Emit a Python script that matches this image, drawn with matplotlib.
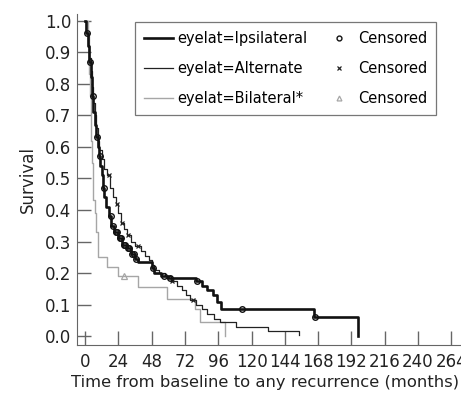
import matplotlib

matplotlib.use("Agg")

import numpy as np
from matplotlib import pyplot as plt
from matplotlib.lines import Line2D

# Kaplan-Meier step points (months, survival after step)
ipsi_t = [0, 1, 2, 3, 4, 5, 6, 7, 8, 9, 10, 11, 12, 13, 14, 15, 17, 19, 21, 24,
          27, 30, 33, 36, 38, 48, 50, 55, 60, 80, 84, 88, 92, 95, 98, 165, 197]
ipsi_s = [1.0, 0.96, 0.92, 0.87, 0.82, 0.76, 0.71, 0.67, 0.63, 0.60, 0.57, 0.54,
          0.51, 0.47, 0.44, 0.41, 0.38, 0.35, 0.33, 0.31, 0.29, 0.28, 0.26, 0.245,
          0.235, 0.215, 0.20, 0.19, 0.185, 0.175, 0.16, 0.145, 0.13, 0.11, 0.085,
          0.062, 0.0]
ipsi_cens = [1.5, 3.5, 5.5, 8.5, 10.5, 13.5, 18.5, 20, 22, 23, 25, 26, 28, 29, 31,
             32, 34, 35, 37, 49, 57, 61, 81, 113, 166]

alt_t = [0, 1, 2, 3, 4, 5, 6, 7, 8, 9, 10, 12, 14, 16, 18, 20, 22, 24, 26, 28, 30,
         33, 36, 40, 43, 46, 48, 50, 53, 58, 62, 66, 70, 73, 76, 80, 84, 88, 93,
         97, 109, 132, 154]
alt_s = [1.0, 0.96, 0.92, 0.88, 0.84, 0.79, 0.74, 0.70, 0.66, 0.62, 0.59, 0.56,
         0.53, 0.51, 0.47, 0.44, 0.42, 0.39, 0.36, 0.34, 0.32, 0.30, 0.285, 0.27,
         0.255, 0.24, 0.225, 0.21, 0.20, 0.19, 0.175, 0.16, 0.145, 0.13, 0.115,
         0.10, 0.085, 0.07, 0.055, 0.044, 0.028, 0.016, 0.003]
alt_cens = [17, 23, 27, 31, 38, 63, 78]

bil_t = [0, 2, 2.5, 3, 3.5, 4, 4.5, 5, 5.5, 6, 7, 8, 9.5, 15.5, 24, 38, 59, 79,
         83, 101]
bil_s = [1.0, 0.95, 0.90, 0.83, 0.76, 0.70, 0.62, 0.55, 0.48, 0.43, 0.39, 0.33,
         0.25, 0.22, 0.19, 0.155, 0.117, 0.085, 0.044, 0.0]
bil_cens = [28]

x_ticks = list(range(0, 265, 24))
y_ticks = [0.0, 0.1, 0.2, 0.3, 0.4, 0.5, 0.6, 0.7, 0.8, 0.9, 1.0]

GREY = "#a6a6a6"
AXIS = "#666666"


def at(times, surv, tc):
    idx = np.searchsorted(times, tc, side="right") - 1
    return np.asarray(surv)[idx]


fig = plt.figure(figsize=(4.61, 3.98), dpi=100)
ax = fig.add_axes([0.167, 0.133, 0.833, 0.832])

ax.step(bil_t, bil_s, where="post", color=GREY, lw=1.0, zorder=2)
ax.step(alt_t, alt_s, where="post", color="#222222", lw=0.9, zorder=3)
ax.step(ipsi_t, ipsi_s, where="post", color="#111111", lw=1.9, zorder=4)

ax.plot(bil_cens, at(bil_t, bil_s, bil_cens), ls="none", marker="^", ms=4,
        mfc="none", mec=GREY, mew=0.9, zorder=5)
ax.plot(alt_cens, at(alt_t, alt_s, alt_cens), ls="none", marker="x", ms=3.5,
        color="#222222", mew=0.9, zorder=5)
ax.plot(ipsi_cens, at(ipsi_t, ipsi_s, ipsi_cens), ls="none", marker="o", ms=4,
        mfc="none", mec="#111111", mew=1.0, zorder=6)

ax.set_xlim(-5.8, 271)
ax.set_ylim(-0.028, 1.021)
ax.set_xticks(x_ticks)
ax.set_yticks(y_ticks)
ax.set_yticklabels([f"{v:.1f}" for v in y_ticks])
for side in ("top", "right"):
    ax.spines[side].set_visible(False)
for side in ("left", "bottom"):
    ax.spines[side].set_color(AXIS)
ax.tick_params(direction="in", length=10, width=1, color=AXIS, labelsize=12,
               labelcolor="#222222")
ax.tick_params(axis="x", pad=6)
ax.tick_params(axis="y", pad=4)
ax.set_xlabel("Time from baseline to any recurrence (months)", fontsize=11.8,
              color="#222222", labelpad=3)
ax.xaxis.set_label_coords(0.49, -0.09)
ax.set_ylabel("Survival", fontsize=12, color="#222222", labelpad=6)

handles = [
    Line2D([], [], color="#111111", lw=1.9),
    Line2D([], [], color="#222222", lw=0.9),
    Line2D([], [], color=GREY, lw=1.0),
    Line2D([], [], ls="none", marker="o", ms=3.5, mfc="none", mec="#111111", mew=1.0),
    Line2D([], [], ls="none", marker="x", ms=3, color="#222222", mew=0.9),
    Line2D([], [], ls="none", marker="^", ms=3.5, mfc="none", mec=GREY, mew=0.9),
]
labels = ["eyelat=Ipsilateral", "eyelat=Alternate", "eyelat=Bilateral*",
          "Censored", "Censored", "Censored"]
leg = ax.legend(handles, labels, ncol=2, loc="upper left",
                bbox_to_anchor=(0.151, 0.976), borderaxespad=0, fontsize=10.5,
                frameon=True, fancybox=False, edgecolor="#555555",
                handlelength=2.0, handletextpad=0.3, columnspacing=1.2,
                borderpad=0.6, labelspacing=1.05)
leg.get_frame().set_linewidth(0.9)

fig.savefig("out.png", dpi=100)
